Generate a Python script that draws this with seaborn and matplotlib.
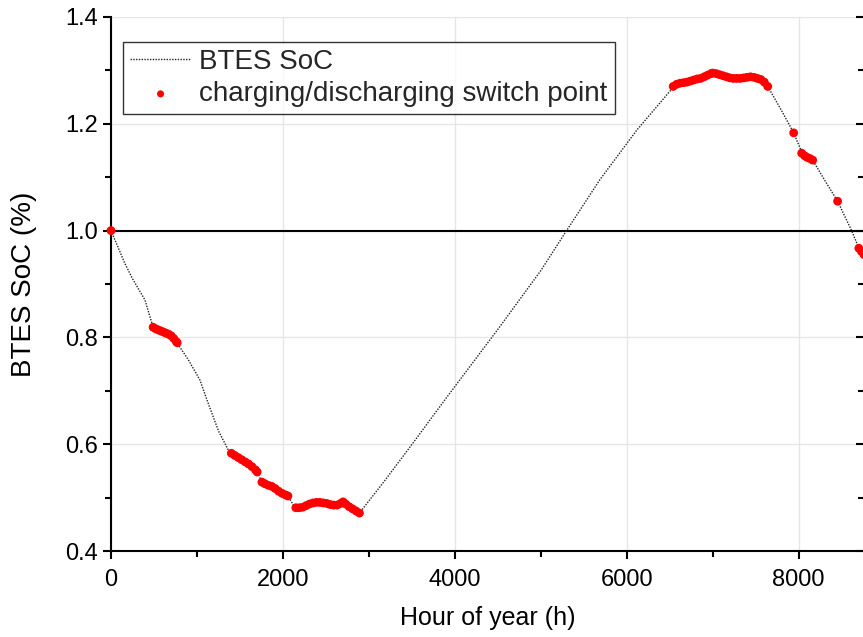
import matplotlib
matplotlib.use("Agg")
import matplotlib.pyplot as plt
import seaborn as sns
import pandas as pd
from matplotlib.ticker import MultipleLocator

# ---------------- DATA ----------------
# BTES state of charge over the year
soc_hours = [0, 160, 250, 395, 490, 600, 700, 767, 900, 1035, 1116, 1250, 1384,
             1500, 1600, 1700, 1756, 1900, 2058, 2140, 2300, 2465, 2600, 2700,
             2800, 2890, 3200, 3512, 3884, 4000, 4500, 5000, 5300, 5686, 6000,
             6116, 6523, 6700, 7000, 7200, 7450, 7640, 7800, 7942, 8047, 8163,
             8300, 8453, 8616, 8700, 8760]
soc_values = [1.0, 0.939, 0.91, 0.870, 0.819, 0.809, 0.803, 0.790, 0.758, 0.720,
              0.683, 0.625, 0.583, 0.572, 0.563, 0.548, 0.529, 0.518, 0.503,
              0.481, 0.488, 0.490, 0.486, 0.492, 0.479, 0.471, 0.535, 0.602,
              0.683, 0.708, 0.815, 0.925, 1.0, 1.095, 1.163, 1.188, 1.265,
              1.278, 1.295, 1.286, 1.288, 1.270, 1.225, 1.183, 1.143, 1.132,
              1.095, 1.055, 1.0, 0.967, 0.955]

# charging/discharging switch points
switch_hours = [0,
                490, 520, 550, 580, 610, 640, 670, 700, 730, 760, 770,
                1400, 1440, 1480, 1520, 1560, 1600, 1640, 1680, 1700,
                1756, 1790, 1830, 1870, 1910, 1950, 1990, 2030, 2058,
                2150, 2190, 2230, 2270, 2310, 2350, 2390, 2430, 2470, 2510,
                2550, 2590, 2630, 2670, 2700, 2730, 2770, 2810, 2850, 2890,
                6540, 6580, 6620, 6660, 6700, 6740, 6780, 6820, 6860, 6900,
                6940, 6980, 7000, 7040, 7080, 7120, 7160, 7200, 7240, 7280,
                7320, 7360, 7400, 7440, 7480, 7520, 7560, 7600, 7640,
                7942,
                8035, 8070, 8100, 8130, 8163,
                8453,
                8700, 8730, 8760]
switch_values = [1.0,
                 0.819, 0.816, 0.814, 0.812, 0.810, 0.808, 0.806, 0.803, 0.798, 0.792, 0.790,
                 0.583, 0.579, 0.575, 0.571, 0.567, 0.563, 0.558, 0.552, 0.548,
                 0.529, 0.526, 0.523, 0.521, 0.517, 0.512, 0.508, 0.505, 0.503,
                 0.481, 0.481, 0.482, 0.485, 0.488, 0.490, 0.491, 0.491, 0.490, 0.489,
                 0.487, 0.486, 0.486, 0.489, 0.492, 0.488, 0.483, 0.479, 0.475, 0.471,
                 1.270, 1.274, 1.276, 1.277, 1.278, 1.280, 1.282, 1.284, 1.285, 1.288,
                 1.291, 1.294, 1.295, 1.294, 1.292, 1.290, 1.288, 1.286, 1.285, 1.285,
                 1.285, 1.286, 1.287, 1.288, 1.287, 1.285, 1.283, 1.278, 1.270,
                 1.183,
                 1.145, 1.140, 1.137, 1.135, 1.132,
                 1.055,
                 0.967, 0.961, 0.955]

soc_df = pd.DataFrame({"hour": soc_hours, "soc": soc_values})
sw_df = pd.DataFrame({"hour": switch_hours, "soc": switch_values})

# ---------------- PLOT ----------------
sns.set_theme(style="white")
plt.rcParams["font.family"] = ["Liberation Sans", "DejaVu Sans"]

fig = plt.figure(figsize=(8.63, 6.37), dpi=100)
ax = fig.add_axes([111 / 863, 86 / 637, 753 / 863, 534 / 637])

ax.axhline(1.0, color="black", lw=1.5, zorder=2)

sns.lineplot(data=soc_df, x="hour", y="soc", ax=ax, color="#222222",
             linestyle=(0, (1, 1)), lw=1.0, label="BTES SoC", zorder=3)
sns.scatterplot(data=sw_df, x="hour", y="soc", ax=ax, color="red", s=40,
                edgecolor="none", label="charging/discharging switch point",
                zorder=4, clip_on=False)

ax.set_xlim(0, 8760)
ax.set_ylim(0.4, 1.4)
ax.xaxis.set_major_locator(MultipleLocator(2000))
ax.xaxis.set_minor_locator(MultipleLocator(1000))
ax.yaxis.set_major_locator(MultipleLocator(0.2))
ax.yaxis.set_minor_locator(MultipleLocator(0.1))
ax.yaxis.set_major_formatter(plt.FormatStrFormatter("%.1f"))

ax.grid(True, which="major", color="#e6e6e6", lw=1)
ax.tick_params(axis="both", which="major", direction="out", length=6,
               width=1.5, labelsize=17, color="black", labelcolor="black")
ax.tick_params(axis="both", which="minor", direction="out", length=4,
               width=1.5, color="black")
ax.tick_params(axis="x", which="both", bottom=True)
ax.tick_params(axis="x", which="major", pad=7)
ax.tick_params(axis="y", which="both", left=True)

for side in ["left", "bottom", "right"]:
    ax.spines[side].set_color("black")
    ax.spines[side].set_linewidth(1.5)
ax.spines["top"].set_visible(False)

# right-hand ticks pointing inward
twin = ax.twinx()
twin.set_ylim(0.4, 1.4)
twin.yaxis.set_major_locator(MultipleLocator(0.2))
twin.yaxis.set_minor_locator(MultipleLocator(0.1))
twin.tick_params(axis="y", which="major", direction="in", length=6, width=1.5,
                 labelright=False, right=True, color="black")
twin.tick_params(axis="y", which="minor", direction="in", length=4, width=1.5,
                 right=True, color="black")
for side in ["left", "bottom", "top"]:
    twin.spines[side].set_visible(False)
twin.spines["right"].set_color("black")
twin.spines["right"].set_linewidth(1.5)

ax.set_xlabel("Hour of year (h)", fontsize=18, labelpad=11, color="black")
ax.set_ylabel("BTES SoC (%)", fontsize=20, labelpad=20, color="black")

leg = ax.legend(loc="upper left", bbox_to_anchor=(0.016, 0.953), fontsize=20,
                frameon=True, fancybox=False, handlelength=2.2,
                borderpad=0.25, labelspacing=0.22, handletextpad=0.3,
                borderaxespad=0, markerscale=0.8)
leg.get_frame().set_edgecolor("black")
leg.get_frame().set_linewidth(1.0)

fig.savefig("out.png", dpi=100)
